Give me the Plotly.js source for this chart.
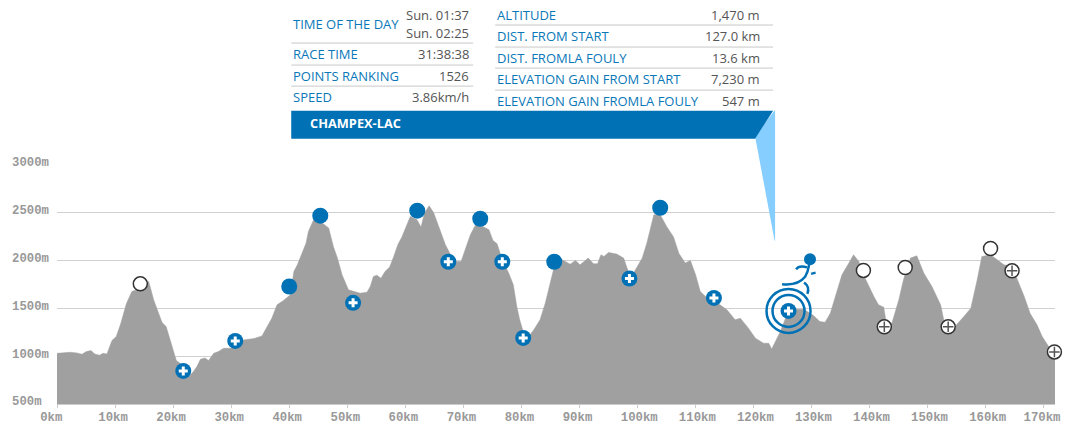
<!DOCTYPE html>
<html><head><meta charset="utf-8">
<script src="https://cdn.plot.ly/plotly-3.0.1.min.js"></script>
<style>html,body{margin:0;padding:0;background:#fff;overflow:hidden}#c{width:1082px;height:431px}</style>
</head><body><div id="c"></div>
<script>
// Elevation profile
const profileKm = [0,1.15,2.3,3.44,4.3,5.05,5.85,6.5,7.35,7.9,8.6,9.47,10.2,11,11.94,12.9,14.35,15.8,16.65,17.5,18.1,18.8,19.5,20.1,20.55,21.2,21.8,22.7,23.5,24.1,24.7,25.5,26.1,27,27.8,28.7,29.85,31,32.1,33.9,35.3,36.2,37,37.9,39,40.2,40.8,41.4,42.2,42.9,43.3,44.2,45.35,46.8,47.6,48.3,49.1,50.2,52.2,53.4,53.96,54.5,55.1,55.8,56.5,57.3,58,58.7,59.4,60.3,60.85,62,62.7,63.3,64.1,64.9,66,66.9,67.8,68.6,69.6,70.3,71.2,72.1,73.5,74.4,75.1,75.8,76.7,77.8,78.6,79.2,79.7,80.3,81,82.1,83.2,84.1,85,85.8,87,88.4,89.3,90.1,91.5,92.4,93.1,93.7,94.2,95,96.4,97.6,98.4,99.3,100.8,101.6,102.8,103.9,105,106.2,107.1,108.2,109.1,110,110.8,112,114.2,115.4,116.8,117.7,119.1,120.3,121.7,122.6,123.1,124,124.6,125.7,127.1,128.6,130.3,131.4,132.3,133.2,134.1,135.2,136.4,137.2,138.1,139.2,140.7,141.5,142.4,142.8,143.8,145,145.8,147,148.1,149.3,150.7,152.2,152.8,154.4,156.2,157.4,158.5,159.3,160.8,161.9,163.1,164.5,165.6,166.6,167.6,168.8,169.7,170.8,171.9];
const profileAlt = [1030,1037,1041,1034,1020,1048,1059,1024,1010,1030,1024,1163,1205,1345,1548,1677,1712,1782,1590,1450,1352,1310,1170,1066,954,926,769,786,839,891,968,982,954,1030,1048,1083,1083,1118,1170,1184,1212,1310,1397,1537,1582,1642,1886,1956,2078,2183,2305,2427,2410,2340,2148,2026,1851,1694,1659,1670,1729,1834,1848,1816,1886,1932,2043,2166,2246,2375,2462,2428,2351,2497,2574,2497,2323,2166,2061,1991,1991,2113,2270,2375,2351,2323,2211,2176,2009,1869,1747,1520,1380,1258,1188,1275,1380,1555,1764,1974,2009,1963,2002,1956,2026,1967,1967,2061,2043,2085,2068,2026,1886,1869,2026,2183,2480,2480,2358,2246,2078,1974,2002,1851,1677,1607,1537,1485,1380,1397,1293,1188,1136,1136,1076,1188,1258,1432,1492,1492,1425,1362,1355,1450,1624,1851,1974,2061,1991,1816,1624,1537,1513,1362,1345,1590,1799,2026,2050,1869,1729,1537,1362,1293,1415,1502,1799,2043,2061,2009,1956,1939,1782,1624,1450,1328,1205,1101,1024];
// Race points
const solidKm = [40,45.35,62.05,72.9,85.65,103.9];
const solidAlt = [1729,2470,2522,2438,1988,2553];
const aidKm = [-0.3,21.75,30.7,51,67.4,76.7,80.3,98.6,113.15];
const aidAlt = [1045,846,1160,1558,1988,1988,1191,1813,1610];
const openKm = [14.35,138.9,146.1,160.8];
const openAlt = [1757,1897,1928,2127];
const openAidKm = [142.5,153.5,164.5,171.8];
const openAidAlt = [1307,1307,1893,1045];
const currentKm = [126];
const currentAlt = [1474];
const headKm = [129.7];
const headAlt = [2015];
// Axes
const xTicks = [0,10,20,30,40,50,60,70,80,90,100,110,120,130,140,150,160,170];
const xLabels = ['0km\u00a0','10km','20km','30km','40km','50km','60km','70km','80km','90km','\u00a0100km','\u00a0110km','\u00a0120km','\u00a0130km','\u00a0140km','\u00a0150km','\u00a0160km','170km'];
const yTicks = [500,1000,1500,2000,2500,3000];
const yLabels = ['500m\u00a0','1000m','1500m','2000m','2500m','3000m'];
// Info panel
const leftLabels = ['TIME OF THE DAY','RACE TIME','POINTS RANKING','SPEED'];
const leftLabelY = [24.4,54.4,76.4,97.6];
const leftValues = ['Sun. 01:37','Sun. 02:25','31:38:38','1526','3.86km/h'];
const leftValueY = [15,33.4,54.4,76.4,97.6];
const leftLines = [43.5,65.5,86.5];
const rightLabels = ['ALTITUDE','DIST. FROM START','DIST. FROMLA FOULY','ELEVATION GAIN FROM START','ELEVATION GAIN FROMLA FOULY'];
const rightValues = ['1,470 m','127.0 km','13.6 km','7,230 m','547 m'];
const rightY = [15.4,36.4,58.2,79.4,101.4];
const rightLines = [25.5,47.5,68.5,90.5];
const bannerText = 'CHAMPEX-LAC';

const ML=56.7, MR=27, MT=165.3, MB=27, W=1082, H=431;
const px = x => (x-ML)/(W-ML-MR);
const py = y => 1-(y-MT)/(H-MT-MB);
const BLUE='#0071b5', SKY='#85ceff', LABEL='#0a78b8', VAL='#555555', LINE='#c8c8c8';
const FONT='"Open Sans", sans-serif';
const P=(x,y)=>px(x)+','+py(y);

const shapes=[];
const hline=(x0,x1,y)=>shapes.push({type:'line',xref:'paper',yref:'paper',x0:px(x0),x1:px(x1),y0:py(y),y1:py(y),line:{color:LINE,width:1},layer:'above'});
leftLines.forEach(y=>hline(291,473,y));
rightLines.forEach(y=>hline(495,773,y));
const poly=(d,fill)=>shapes.push({type:'path',xref:'paper',yref:'paper',path:d,fillcolor:fill,line:{width:0},layer:'above'});
poly(`M${P(775,110)} L${P(755,137)} L${P(757.5,150)} L${P(774.5,241)} L${P(775,241)} Z`,SKY);
poly(`M${P(291,111)} L${P(773,111)} L${P(755,139)} L${P(291,139)} Z`,BLUE);
const stroke=(d,w)=>shapes.push({type:'path',xref:'paper',yref:'paper',path:d,line:{color:BLUE,width:w},layer:'above'});
stroke(`M${P(782,284.3)} Q${P(798,286)} ${P(805,277)} Q${P(808,272)} ${P(809,265)}`,2.5);
stroke(`M${P(796,269.5)} Q${P(799,265)} ${P(807,267.5)}`,2.5);
stroke(`M${P(811,274)} L${P(815.5,272.8)}`,2.5);
stroke(`M${P(804,282.7)} Q${P(810,287)} ${P(807.3,294)}`,2.5);

const annotations=[];
const txt=(t,x,y,anchor,color,size,bold)=>annotations.push({text:bold?`<b>${t}</b>`:t,xref:'paper',yref:'paper',x:px(x),y:py(y),xanchor:anchor,yanchor:'middle',showarrow:false,borderpad:0,font:{family:FONT,size:size,color:color}});
leftLabels.forEach((t,i)=>txt(t,291.5,leftLabelY[i],'left',LABEL,13));
leftValues.forEach((t,i)=>txt(t,470,leftValueY[i],'right',VAL,13));
rightLabels.forEach((t,i)=>txt(t,496,rightY[i],'left',LABEL,13));
rightValues.forEach((t,i)=>txt(t,761,rightY[i],'right',VAL,13));
txt(bannerText,309,123,'left','#ffffff',12.8,true);

const traces=[
 {x:profileKm,y:profileAlt,type:'scatter',mode:'lines',fill:'tozeroy',fillcolor:'#a0a0a0',line:{color:'#a0a0a0',width:0.5},hoverinfo:'skip'},
 {x:currentKm.concat(currentKm),y:currentAlt.concat(currentAlt),type:'scatter',mode:'markers',cliponaxis:false,hoverinfo:'skip',
  marker:{symbol:'circle-open',size:[44,32],opacity:1,color:BLUE,line:{color:BLUE,width:2.5}}},
 {x:aidKm.concat(currentKm),y:aidAlt.concat(currentAlt),type:'scatter',mode:'markers',cliponaxis:false,hoverinfo:'skip',marker:{symbol:'circle',size:16,color:BLUE}},
 {x:aidKm.concat(currentKm),y:aidAlt.concat(currentAlt),type:'scatter',mode:'markers',cliponaxis:false,hoverinfo:'skip',marker:{symbol:'cross',size:7.5,color:'#ffffff'}},
 {x:solidKm,y:solidAlt,type:'scatter',mode:'markers',cliponaxis:false,hoverinfo:'skip',marker:{symbol:'circle',size:16,color:BLUE}},
 {x:headKm,y:headAlt,type:'scatter',mode:'markers',cliponaxis:false,hoverinfo:'skip',marker:{symbol:'circle',size:12,color:BLUE}},
 {x:openKm.concat(openAidKm),y:openAlt.concat(openAidAlt),type:'scatter',mode:'markers',cliponaxis:false,hoverinfo:'skip',marker:{symbol:'circle',size:14,color:'#ffffff',line:{color:'#333333',width:1.5}}},
 {x:openAidKm,y:openAidAlt,type:'scatter',mode:'markers',cliponaxis:false,hoverinfo:'skip',marker:{symbol:'cross-thin',size:7.5,color:'#555555',line:{color:'#555555',width:1.5}}}
];
const tickFont={family:'"Liberation Mono", monospace',size:12.3,color:'#999999',weight:'bold'};
const layout={width:W,height:H,margin:{l:ML,r:MR,t:MT,b:MB,pad:0},paper_bgcolor:'#fff',plot_bgcolor:'#fff',showlegend:false,
 xaxis:{range:[0,171.9],tickmode:'array',tickvals:xTicks,ticktext:xLabels,showgrid:false,zeroline:false,showline:true,linecolor:'#cccccc',linewidth:1,ticks:'outside',ticklen:3,tickcolor:'#cccccc',tickfont:tickFont,ticklabelshift:-2,ticklabelstandoff:-2,tickangle:0},
 yaxis:{range:[500,3000],tickmode:'array',tickvals:yTicks,ticktext:yLabels,showgrid:true,gridcolor:'#d0d0d0',gridwidth:1,zeroline:false,showline:false,ticks:'',tickfont:tickFont,ticklabelshift:-3,ticklabelstandoff:7},
 shapes,annotations};
Plotly.newPlot('c',traces,layout,{displayModeBar:false,staticPlot:true});
</script></body></html>
